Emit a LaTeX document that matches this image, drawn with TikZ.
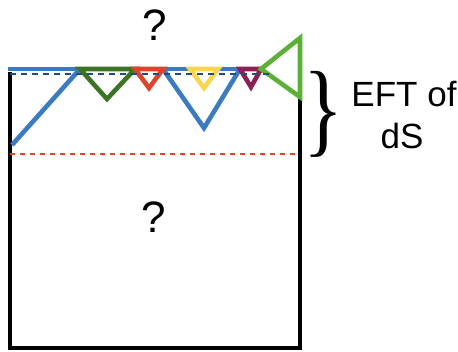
\documentclass[tikz,border=0pt]{standalone}
\usepackage{fontspec}
\setmainfont{Liberation Sans}
\newfontfamily\bracefont{Liberation Serif}
\definecolor{cblue}{HTML}{3A7BC2}
\definecolor{cdash}{HTML}{234C7E}
\definecolor{cdgreen}{HTML}{3A7424}
\definecolor{cred}{HTML}{E0432A}
\definecolor{cyellow}{HTML}{F9D64E}
\definecolor{cpurple}{HTML}{8C1F54}
\definecolor{clgreen}{HTML}{5CB035}
\tikzset{
  wline/.style={line width=4.6pt, line join=miter},
  boxline/.style={line width=4.6pt, black, line join=miter},
  lbl/.style={font=\fontsize{44}{50}\selectfont, inner sep=0pt},
  eft/.style={font=\fontsize{35}{40}\selectfont, inner sep=0pt, anchor=base},
}
\begin{document}
\begin{tikzpicture}[x=1pt,y=-1pt]
\useasboundingbox (0,0) rectangle (458,351);
% coordinates
\coordinate (tl) at (8,69);
\coordinate (blstart) at (12,145);
\coordinate (g1) at (80,69);
\coordinate (g2) at (135,69);
\coordinate (gA) at (107,99);
\coordinate (r2) at (163,69);
\coordinate (rA) at (149,88);
\coordinate (y1) at (190,69);
\coordinate (y2) at (218,69);
\coordinate (yA) at (204,88);
\coordinate (vB) at (204,128);
\coordinate (p1) at (240,69);
\coordinate (p2) at (261,69);
\coordinate (pA) at (251,87);
\coordinate (L1) at (300,38);
\coordinate (L2) at (300,97);
\coordinate (bl) at (10,348);
\coordinate (br) at (300,348);
\coordinate (lt) at (10,72);
% black box
\draw[boxline] (lt) -- (bl) -- (br) -- (L2);
% blue line and zigzag
\draw[wline, cblue] (tl) -- (p2);
\draw[wline, cblue] (blstart) -- (g1);
\draw[wline, cblue] (r2) -- (vB) -- (p1);
% triangles
\draw[wline, cdgreen] (g1) -- (g2) -- (gA) -- cycle;
\draw[wline, cred] (g2) -- (r2) -- (rA) -- cycle;
\draw[wline, cyellow] (y1) -- (y2) -- (yA) -- cycle;
\draw[wline, cpurple] (p1) -- (p2) -- (pA) -- cycle;
\draw[wline, clgreen] (p2) -- (L1) -- (L2) -- cycle;
% dashed lines
\coordinate (d1) at (10,74);
\coordinate (d2) at (271,74);
\draw[cdash, line width=2.8pt, dash pattern=on 6pt off 5pt] (d1) -- (d2);
\coordinate (e1) at (10,154);
\coordinate (e2) at (300,154);
\draw[cred, line width=2.8pt, dash pattern=on 5pt off 5pt] (e1) -- (e2);
% brace
\node[inner sep=0pt] (brace) at (324,114) {\resizebox*{40pt}{86pt}{\bracefont\}}};
% texts
\node[lbl] (q1) at (155,25) {?};
\node[lbl] (q2) at (154,217) {?};
\node[eft] (t1) at (404,106) {EFT of};
\node[eft] (t2) at (402,148) {dS};
\end{tikzpicture}
\end{document}
